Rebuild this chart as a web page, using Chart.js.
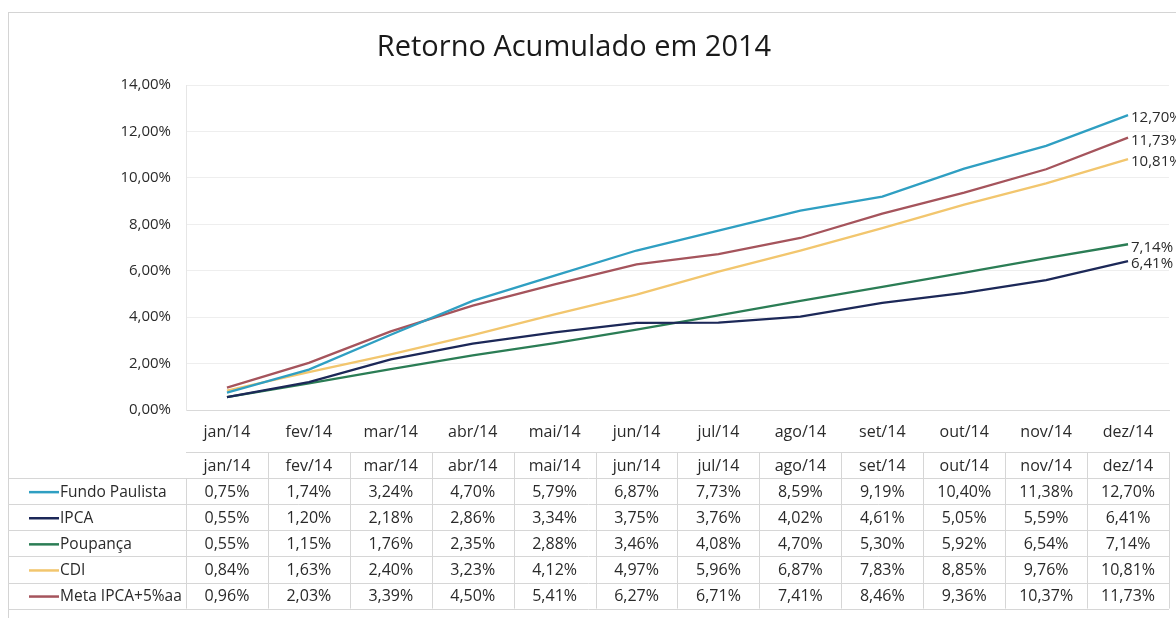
<!DOCTYPE html>
<html>
<head>
<meta charset="utf-8">
<script src="https://cdn.jsdelivr.net/npm/chart.js@4"></script>
<style>
  html, body { margin: 0; padding: 0; background: #ffffff; }
  #wrap { width: 1176px; height: 618px; position: relative; }
  canvas { display: block; }
</style>
</head>
<body>
<div id="wrap"><canvas id="c" width="1176" height="618"></canvas></div>
<script>
const titleText = 'Retorno Acumulado em 2014';
const categories = ['jan/14','fev/14','mar/14','abr/14','mai/14','jun/14','jul/14','ago/14','set/14','out/14','nov/14','dez/14'];
const seriesNames = ['Fundo Paulista','IPCA','Poupança','CDI','Meta IPCA+5%aa'];
const fundoPaulista = [0.75, 1.74, 3.24, 4.70, 5.79, 6.87, 7.73, 8.59, 9.19, 10.40, 11.38, 12.70];
const ipca          = [0.55, 1.20, 2.18, 2.86, 3.34, 3.75, 3.76, 4.02, 4.61, 5.05, 5.59, 6.41];
const poupanca      = [0.55, 1.15, 1.76, 2.35, 2.88, 3.46, 4.08, 4.70, 5.30, 5.92, 6.54, 7.14];
const cdi           = [0.84, 1.63, 2.40, 3.23, 4.12, 4.97, 5.96, 6.87, 7.83, 8.85, 9.76, 10.81];
const metaIpca      = [0.96, 2.03, 3.39, 4.50, 5.41, 6.27, 6.71, 7.41, 8.46, 9.36, 10.37, 11.73];
const yTicks = [0, 2, 4, 6, 8, 10, 12, 14];

const seriesValues = [fundoPaulista, ipca, poupanca, cdi, metaIpca];
const seriesColors = ['#2f9fc2', '#1c2858', '#2b7d55', '#f2c66e', '#a5545c'];

const FONT = '"Open Sans", "Noto Sans", sans-serif';
const fmt = v => v.toFixed(2).replace('.', ',') + '%';

// Draw title, chart border, end labels and the data table
const extrasPlugin = {
  id: 'extras',
  afterDraw(chart) {
    const ctx = chart.ctx;
    const xs = chart.scales.x;
    ctx.save();
    // outer border
    ctx.strokeStyle = '#d4d4d4';
    ctx.lineWidth = 1;
    ctx.strokeRect(8.5, 12.5, 1300, 800);

    // title
    ctx.fillStyle = '#1a1a1a';
    ctx.font = '29px ' + FONT;
    ctx.textAlign = 'center';
    ctx.textBaseline = 'middle';
    ctx.fillText(titleText, 574, 48);

    // end labels
    ctx.font = '15px ' + FONT;
    ctx.fillStyle = '#2a2a2a';
    ctx.textAlign = 'left';
    chart.data.datasets.forEach((ds, i) => {
      const meta = chart.getDatasetMeta(i);
      const pt = meta.data[meta.data.length - 1];
      const v = ds.data[ds.data.length - 1];
      ctx.fillText(fmt(v), pt.x + 3, pt.y + 3);
    });

    // data table
    const n = categories.length;
    const step = xs.getPixelForValue(1) - xs.getPixelForValue(0);
    const colLeft = i => xs.getPixelForValue(i) - step / 2;
    const tableLeft = colLeft(0);
    const tableRight = colLeft(n - 1) + step;
    const top = 452;
    const rowH = 26.1;
    const rows = seriesNames.length;
    const bottom = top + rowH * (rows + 1);

    ctx.strokeStyle = '#d6d6d6';
    ctx.lineWidth = 1;
    ctx.beginPath();
    ctx.moveTo(tableLeft, Math.round(top) + 0.5);
    ctx.lineTo(tableRight, Math.round(top) + 0.5);
    for (let r = 1; r <= rows + 1; r++) {
      const y = Math.round(top + rowH * r) + 0.5;
      ctx.moveTo(8, y);
      ctx.lineTo(tableRight, y);
    }
    for (let c = 0; c <= n; c++) {
      const x = Math.round(colLeft(c)) + 0.5;
      ctx.moveTo(x, c === 0 ? top + rowH : top);
      ctx.lineTo(x, bottom);
    }
    ctx.stroke();

    ctx.fillStyle = '#2a2a2a';
    ctx.font = '16px ' + FONT;
    ctx.textAlign = 'center';
    ctx.textBaseline = 'middle';
    categories.forEach((cat, i) => {
      ctx.fillText(cat, xs.getPixelForValue(i), top + rowH / 2 + 1);
    });
    seriesNames.forEach((name, r) => {
      const cy = top + rowH * (r + 1) + rowH / 2 + 1;
      ctx.strokeStyle = seriesColors[r];
      ctx.lineWidth = 2.5;
      ctx.beginPath();
      ctx.moveTo(29, cy);
      ctx.lineTo(59, cy);
      ctx.stroke();
      ctx.textAlign = 'left';
      ctx.font = '15.5px ' + FONT;
      ctx.fillText(name, 60, cy);
      ctx.font = '16px ' + FONT;
      ctx.textAlign = 'center';
      seriesValues[r].forEach((v, i) => {
        ctx.fillText(fmt(v), xs.getPixelForValue(i), cy);
      });
    });
    ctx.restore();
  }
};

new Chart(document.getElementById('c'), {
  type: 'line',
  data: {
    labels: categories,
    datasets: seriesNames.map((name, i) => ({
      label: name,
      data: seriesValues[i],
      borderColor: seriesColors[i],
      backgroundColor: seriesColors[i],
      borderWidth: 2.3,
      pointRadius: 0,
      tension: 0,
      fill: false
    }))
  },
  options: {
    responsive: false,
    devicePixelRatio: 1,
    animation: false,
    layout: { padding: { left: 0, right: 7, top: 85, bottom: 168 } },
    plugins: {
      legend: { display: false },
      title: { display: false },
      tooltip: { enabled: false }
    },
    scales: {
      x: {
        type: 'category',
        offset: true,
        grid: { display: false, drawTicks: false },
        border: { display: true, color: '#d9d9d9' },
        ticks: { color: '#2a2a2a', font: { family: FONT, size: 16 }, padding: 13, maxRotation: 0, autoSkip: false },
        afterFit(scale) { scale.height = 40; }
      },
      y: {
        min: 0,
        max: 14,
        afterBuildTicks(scale) { scale.ticks = yTicks.map(v => ({ value: v })); },
        grid: { color: '#eeeeee', drawTicks: false },
        border: { display: true, color: '#e6e6e6' },
        ticks: {
          color: '#2a2a2a',
          font: { family: FONT, size: 15 },
          padding: 15,
          callback: v => fmt(v)
        },
        afterFit(scale) { scale.width = 186; }
      }
    }
  },
  plugins: [extrasPlugin]
});
</script>
</body>
</html>
